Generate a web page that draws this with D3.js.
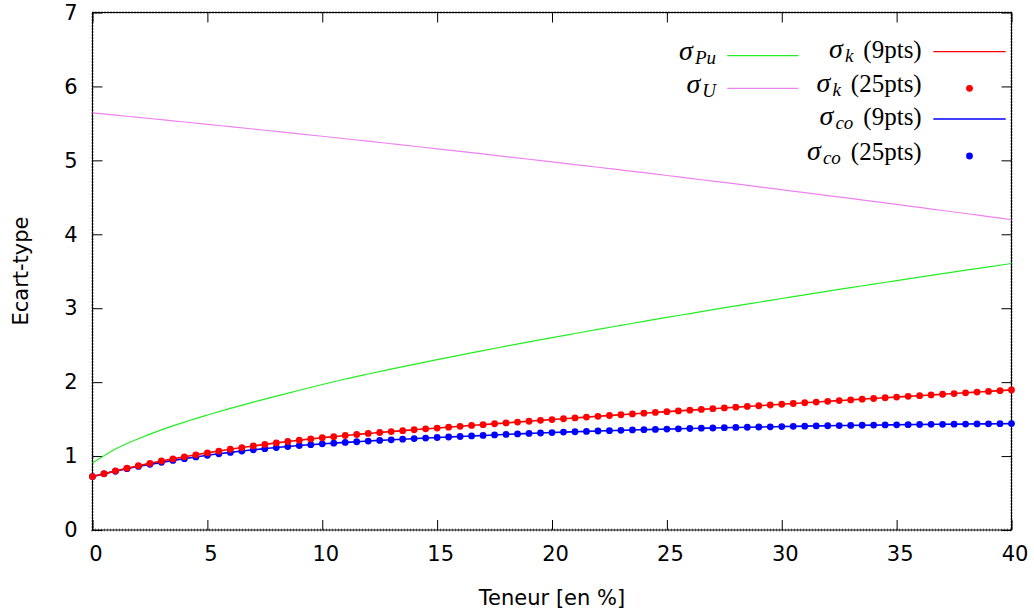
<!DOCTYPE html>
<html><head><meta charset="utf-8">
<script src="https://cdn.jsdelivr.net/npm/d3@7"></script>
<style>body{margin:0;background:#fff}</style>
</head><body><svg id="c" width="1034" height="616"></svg>
<script>
// ---- data ----
const xTicks = [0,5,10,15,20,25,30,35,40];
const yTicks = [0,1,2,3,4,5,6,7];
const tInt = d3.range(0, 41, 1);        // teneur grid, step 1
const tHalf = d3.range(0, 40.5, 0.5);   // teneur grid, step 0.5

const sigmaPu = [0.905,1.095,1.235,1.355,1.46,1.555,1.645,1.73,1.81,1.89,1.968,2.042,2.110,2.176,2.241,2.304,2.366,2.427,2.486,2.545,2.602,2.658,2.714,2.768,2.822,2.876,2.928,2.980,3.031,3.081,3.131,3.181,3.230,3.278,3.326,3.374,3.421,3.467,3.514,3.559,3.605];
const sigmaU = [5.642,5.612,5.581,5.550,5.519,5.488,5.456,5.424,5.391,5.359,5.326,5.292,5.259,5.225,5.191,5.156,5.122,5.087,5.051,5.015,4.980,4.943,4.907,4.870,4.833,4.795,4.757,4.719,4.681,4.642,4.603,4.564,4.524,4.485,4.444,4.404,4.363,4.322,4.281,4.239,4.197];
const sigmaK = [0.722,0.762,0.800,0.836,0.870,0.902,0.933,0.962,0.990,1.017,1.043,1.068,1.092,1.115,1.137,1.158,1.178,1.197,1.215,1.232,1.248,1.263,1.278,1.292,1.306,1.319,1.332,1.344,1.356,1.368,1.379,1.391,1.402,1.414,1.425,1.437,1.448,1.460,1.471,1.483,1.494,1.505,1.516,1.527,1.538,1.549,1.559,1.570,1.580,1.591,1.601,1.611,1.621,1.631,1.641,1.651,1.661,1.671,1.681,1.691,1.701,1.711,1.721,1.731,1.741,1.751,1.760,1.770,1.779,1.789,1.798,1.808,1.817,1.827,1.836,1.846,1.856,1.866,1.875,1.885,1.895];
const sigmaCo = [0.722,0.760,0.795,0.829,0.860,0.888,0.915,0.941,0.965,0.988,1.010,1.031,1.050,1.068,1.085,1.100,1.115,1.129,1.142,1.154,1.165,1.175,1.185,1.194,1.203,1.212,1.220,1.228,1.236,1.244,1.251,1.258,1.265,1.272,1.279,1.286,1.293,1.300,1.306,1.312,1.318,1.324,1.329,1.334,1.339,1.344,1.348,1.353,1.357,1.361,1.365,1.369,1.373,1.377,1.380,1.384,1.387,1.390,1.393,1.396,1.399,1.402,1.405,1.408,1.410,1.413,1.415,1.417,1.419,1.421,1.423,1.425,1.427,1.429,1.430,1.432,1.433,1.435,1.436,1.438,1.439];

const legendSub = ['Pu','U','k','k','co','co'];
const legendSuffix = ['','','(9pts)','(25pts)','(9pts)','(25pts)'];
const xLabel = 'Teneur [en %]';
const yLabel = 'Ecart-type';

// ---- layout ----
const svg = d3.select('#c');
const L = 92.5, R = 1011.5, T = 12.5, B = 530;
const x = d3.scaleLinear().domain([0,40]).range([L,R]);
const y = d3.scaleLinear().domain([0,7]).range([B,T]);
const font = '"DejaVu Sans", sans-serif';

// dotted frame texture
svg.append('rect').attr('x',L).attr('y',T).attr('width',R-L).attr('height',B-T)
  .attr('fill','none').attr('stroke','#888').attr('stroke-width',3).attr('stroke-dasharray','1,2');
svg.append('rect').attr('x',L).attr('y',T).attr('width',R-L).attr('height',B-T)
  .attr('fill','none').attr('stroke','#000').attr('stroke-width',1);

function styleAxis(g){
  g.select('.domain').remove();
  g.selectAll('.tick line').attr('stroke','#000').attr('stroke-width',1);
  g.selectAll('text').attr('font-family',font).attr('font-size',21).attr('fill','#000');
}
svg.append('g').attr('transform',`translate(0,${B})`)
  .call(d3.axisBottom(x).tickValues(xTicks).tickSize(-10).tickPadding(16).tickFormat(d3.format('d')))
  .call(styleAxis).selectAll('text').attr('dx',3);
svg.append('g').attr('transform',`translate(0,${T})`)
  .call(d3.axisTop(x).tickValues(xTicks).tickSize(-10).tickFormat(''))
  .call(styleAxis);
svg.append('g').attr('transform',`translate(${L},0)`)
  .call(d3.axisLeft(y).tickValues(yTicks).tickSize(-10).tickPadding(15).tickFormat(d3.format('d')))
  .call(styleAxis);
svg.append('g').attr('transform',`translate(${R},0)`)
  .call(d3.axisRight(y).tickValues(yTicks).tickSize(-10).tickFormat(''))
  .call(styleAxis);

// axis titles
svg.append('text').attr('x',552).attr('y',605).attr('text-anchor','middle')
  .attr('font-family',font).attr('font-size',21).text(xLabel);
svg.append('text').attr('transform','translate(28,271) rotate(-90)').attr('text-anchor','middle')
  .attr('font-family',font).attr('font-size',21).text(yLabel);

// curves
const line = d3.line().x(d=>x(d[0])).y(d=>y(d[1])).curve(d3.curveMonotoneX);
function drawLine(ts, vals, color, w){
  svg.append('path').datum(ts.map((t,i)=>[t,vals[i]])).attr('d',line)
    .attr('fill','none').attr('stroke',color).attr('stroke-width',w).attr('stroke-linejoin','round');
}
function drawDots(ts, vals, color){
  svg.append('g').selectAll('circle').data(ts.map((t,i)=>[t,vals[i]])).join('circle')
    .attr('cx',d=>x(d[0])).attr('cy',d=>y(d[1])).attr('r',3.4).attr('fill',color);
}
const cPu='#22ee22', cU='#ee82ee', cK='#ff0000', cCo='#0000ff';
drawLine(tInt, sigmaPu, cPu, 1.2);
drawLine(tInt, sigmaU, cU, 1.2);
drawLine(tHalf, sigmaCo, cCo, 1.6);
drawDots(tHalf, sigmaCo, cCo);
drawLine(tHalf, sigmaK, cK, 1.6);
drawDots(tHalf, sigmaK, cK);

// legend
const serif = '"Liberation Serif", "Times New Roman", serif';
const legTextX = [716,716,921.7,921.7,921.7,921.7];
const legBase  = [60,93,58,91.5,125,160];
const legKind  = ['line','line','line','dot','line','dot'];
const legColor = [cPu,cU,cK,cK,cCo,cCo];
const legSymY  = [55.7,88.3,51.7,88.3,119,156];
const legSymX0 = [727.3,727.3,933.3,933.3,933.3,933.3];
const legSymX1 = [798.3,798.3,1005.7,1005.7,1005.7,1005.7];
legendSub.forEach((sub,i)=>{
  const t = svg.append('text').attr('x',legTextX[i]).attr('y',legBase[i]).attr('text-anchor','end')
    .attr('font-family',serif).attr('font-size',25);
  t.append('tspan').attr('font-style','italic').attr('font-size',28).text('σ');
  t.append('tspan').attr('font-style','italic').attr('font-size',19).attr('dx',2).attr('dy',4).text(sub);
  if (legendSuffix[i]) {
    t.append('tspan').attr('dy',-4).attr('dx',10).text(legendSuffix[i]);
  }
  if (legKind[i]==='line') {
    svg.append('line').attr('x1',legSymX0[i]).attr('x2',legSymX1[i]).attr('y1',legSymY[i]).attr('y2',legSymY[i])
      .attr('stroke',legColor[i]).attr('stroke-width',1.3);
  } else {
    svg.append('circle').attr('cx',(legSymX0[i]+legSymX1[i])/2).attr('cy',legSymY[i]).attr('r',3.4).attr('fill',legColor[i]);
  }
});
</script>
</body></html>
